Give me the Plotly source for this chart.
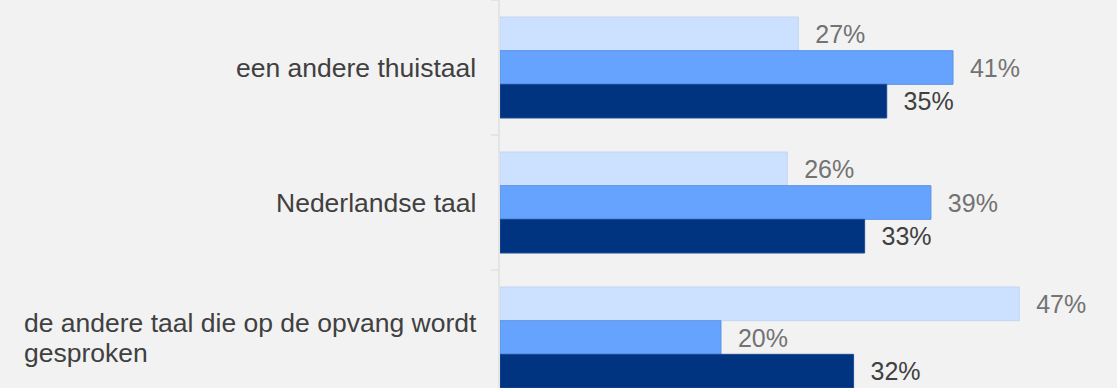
import plotly.graph_objects as go

###############################################################################
# data

categories = ["een andere thuistaal",
              "Nederlandse taal",
              "de andere taal die op de opvang wordt<br>gesproken"]

series_names = ["reeks 1", "reeks 2", "reeks 3"]
series_values = [[27, 26, 47],
                 [41, 39, 20],
                 [35, 33, 32]]

bar_colors = ["#cce0ff", "#66a3ff", "#003380"]
line_colors = ["#c2d6f2", "#5b93e6", "#1f4a94"]
label_colors = ["#737373", "#737373", "#404040"]

FONT = "Liberation Sans, Arial, sans-serif"

###############################################################################

fig = go.Figure()

for name, vals, col, lcol, tcol in zip(series_names, series_values, bar_colors, line_colors, label_colors):
    fig.add_trace(go.Bar(
        y=categories,
        x=vals,
        name=name,
        orientation="h",
        marker=dict(color=col, line=dict(color=lcol, width=1)),
        text=["\u00a0\u00a0" + f"{v}%" for v in vals],
        textposition="outside",
        constraintext="none",
        cliponaxis=False,
        textfont=dict(family=FONT, size=25, color=tcol),
        hovertemplate="%{y}: %{x}%<extra></extra>",
    ))

# category labels as annotations (the 2-line label is left aligned, tighter line spacing)
LINE_H = 30
for cat in categories:
    lines = cat.split("<br>")
    n = len(lines)
    for i, line in enumerate(lines):
        if n == 1:
            anchor, shift = "right", -22
        else:
            anchor, shift = "left", -478
        fig.add_annotation(
            x=0, xref="paper", y=cat, yref="y",
            text=line, showarrow=False,
            xanchor=anchor, yanchor="middle", xshift=shift,
            yshift=((n - 1) / 2 - i) * LINE_H,
            font=dict(family=FONT, size=26.5, color="#404040"),
        )

fig.update_layout(
    width=1117,
    height=388,
    margin=dict(l=500, r=0, t=0, b=0, pad=0),
    paper_bgcolor="#f2f2f2",
    plot_bgcolor="#f2f2f2",
    barmode="group",
    bargap=0.252,
    bargroupgap=0,
    showlegend=False,
    font=dict(family=FONT),
)

fig.update_xaxes(range=[0, 55.84], visible=False, showgrid=False, zeroline=False)
fig.update_yaxes(
    type="category",
    range=[2.374, -0.5],
    autorange=False,
    showticklabels=False,
    showgrid=False,
    zeroline=False,
    showline=True,
    linecolor="#e4e4e4",
    linewidth=2,
    ticks="outside",
    tickson="boundaries",
    ticklen=7,
    tickcolor="#e4e4e4",
    tickwidth=2,
)

# no page margin around the figure, no modebar
fig.write_html("out.html",
               config={"displayModeBar": False},
               post_script="document.body.style.margin='0';")
